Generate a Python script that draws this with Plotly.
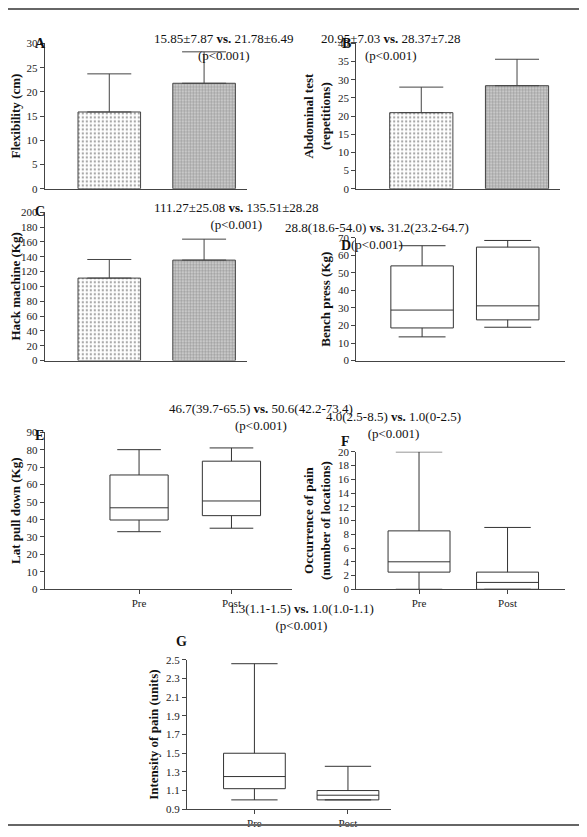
import plotly.graph_objects as go

W, H = 587, 837
PAD = 8  # page body margin around the plot
FW, FH = W - 2 * PAD, H - 2 * PAD
groups = ["Pre", "Post"]

# bar panels: mean and SD
flex_mean = [15.85, 21.78]; flex_sd = [7.87, 6.49]
abd_mean = [20.95, 28.37]; abd_sd = [7.03, 7.28]
hack_mean = [111.27, 135.51]; hack_sd = [25.08, 28.28]

# box panels: low whisker, q1, median, q3, high whisker
bench_low = [13.5, 19]; bench_q1 = [18.6, 23.2]; bench_med = [28.8, 31.2]; bench_q3 = [54.0, 64.7]; bench_high = [65.5, 68.5]
lat_low = [33, 35]; lat_q1 = [39.7, 42.2]; lat_med = [46.7, 50.6]; lat_q3 = [65.5, 73.4]; lat_high = [80, 81]
occ_low = [0, 0]; occ_q1 = [2.5, 0]; occ_med = [4.0, 1.0]; occ_q3 = [8.5, 2.5]; occ_high = [20, 9]
int_low = [1.0, 1.0]; int_q1 = [1.12, 1.0]; int_med = [1.25, 1.05]; int_q3 = [1.5, 1.1]; int_high = [2.46, 1.36]

FONT = "Liberation Serif"
fig = go.Figure()

def px_x(x): return (x - PAD) / FW
def px_y(y): return 1 - (y - PAD) / FH

def axes(n, x0, x1, ytop, ybot, xrange, yrange, dtick, ytitle, show_x):
    fig.layout[f"xaxis{n}"] = dict(domain=[px_x(x0), px_x(x1)], anchor=f"y{n}", range=xrange,
        showline=True, linecolor="#444", linewidth=1, ticks="outside" if show_x else "",
        tickvals=[0, 1], ticktext=groups if show_x else ["", ""], showgrid=False, zeroline=False,
        tickfont=dict(size=11, color="#222"), ticklen=4)
    fig.layout[f"yaxis{n}"] = dict(domain=[px_y(ybot), px_y(ytop)], anchor=f"x{n}", range=yrange,
        dtick=dtick, tick0=yrange[0], showline=True, linecolor="#444", linewidth=1, ticks="outside",
        ticklen=4, showgrid=False, zeroline=False, tickfont=dict(size=11, color="#222"),
        title=dict(text=f"<b>{ytitle}</b>", font=dict(size=13, color="#111"), standoff=4))

def bars(n, mean, sd):
    fig.add_trace(go.Bar(x=[0, 1], y=mean, width=0.66, xaxis=f"x{n}", yaxis=f"y{n}",
        marker=dict(color=["white", "#c8c8c8"], line=dict(color="#444", width=1),
                    pattern=dict(shape=[".", "+"], fgcolor="#777", size=[4, 3], solidity=0.25)),
        error_y=dict(type="data", symmetric=False, array=sd, arrayminus=[0, 0],
                     color="#444", thickness=1, width=22), showlegend=False))

def boxes(n, low, q1, med, q3, high, w=0.66):
    fig.add_trace(go.Box(x=[0, 1], q1=q1, median=med, q3=q3, lowerfence=low, upperfence=high,
        xaxis=f"x{n}", yaxis=f"y{n}", fillcolor="white", line=dict(color="#333", width=1),
        width=w, whiskerwidth=0.75, showlegend=False, boxpoints=False))

def label(x, y, letter):
    fig.add_annotation(x=px_x(x), y=px_y(y), xref="paper", yref="paper", text=f"<b>{letter}</b>",
        showarrow=False, font=dict(size=14, family=FONT, color="#111"))

def title(x, y, t):
    fig.add_annotation(x=px_x(x), y=px_y(y), xref="paper", yref="paper", text=t, showarrow=False,
        font=dict(size=13, family=FONT, color="#111"), align="center")

# A
axes(1, 42, 245, 38, 186, [-0.68, 1.45], [0, 30], 5, "Flexibility (cm)", False)
bars(1, flex_mean, flex_sd)
label(30, 28, "A"); title(150, 23, "15.85±7.87 <b>vs.</b> 21.78±6.49<br>(p<0.001)")
# B
axes(2, 355, 560, 38, 186, [-0.68, 1.45], [0, 40], 5, "Abdominal test<br>(repetitions)", False)
bars(2, abd_mean, abd_sd)
label(345, 28, "B"); title(462, 23, "20.95±7.03 <b>vs.</b> 28.37±7.28<br>(p<0.001)")
# C
axes(3, 42, 245, 210, 361, [-0.68, 1.45], [0, 200], 20, "Hack machine (Kg)", False)
bars(3, hack_mean, hack_sd)
label(30, 200, "C"); title(150, 195, "111.27±25.08 <b>vs.</b> 135.51±28.28<br>(p<0.001)")
# D
axes(4, 355, 565, 236, 361, [-0.77, 1.67], [0, 70], 10, "Bench press (Kg)", False)
boxes(4, bench_low, bench_q1, bench_med, bench_q3, bench_high, 0.73)
label(345, 234, "D"); title(470, 216, "28.8(18.6-54.0) <b>vs.</b> 31.2(23.2-64.7)<br>(p<0.001)")
# E
axes(5, 42, 290, 434, 594, [-1.02, 1.65], [0, 90], 10, "Lat pull down (Kg)", True)
boxes(5, lat_low, lat_q1, lat_med, lat_q3, lat_high, 0.63)
label(30, 437, "E"); title(165, 418, "46.7(39.7-65.5) <b>vs.</b> 50.6(42.2-73.4)<br>(p<0.001)")
# F
axes(6, 355, 565, 454, 594, [-0.71, 1.65], [0, 20], 2, "Occurrence of pain<br>(number of locations)", True)
boxes(6, occ_low, occ_q1, occ_med, occ_q3, occ_high, 0.7)
label(344, 443, "F"); title(462, 427, "4.0(2.5-8.5) <b>vs.</b> 1.0(0-2.5)<br>(p<0.001)")
# G
axes(7, 185, 390, 666, 818, [-0.72, 1.46], [0.9, 2.5], 0.2, "Intensity of pain (units)", True)
boxes(7, int_low, int_q1, int_med, int_q3, int_high, 0.66)
label(172, 657, "G"); title(300, 641, "1.3(1.1-1.5) <b>vs.</b> 1.0(1.0-1.1)<br>(p<0.001)")

fig.add_shape(type="rect", xref="paper", yref="paper", x0=px_x(3), y0=px_y(834), x1=px_x(584), y1=px_y(3),
              line=dict(color="#666", width=2))
fig.update_layout(width=FW, height=FH, margin=dict(l=0, r=0, t=0, b=0),
                  paper_bgcolor="white", plot_bgcolor="white",
                  font=dict(family=FONT, color="#111"), showlegend=False)
fig.write_html("out.html")
